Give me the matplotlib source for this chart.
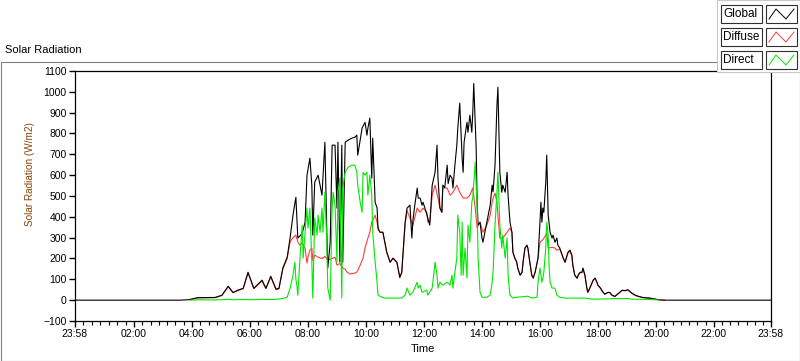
import numpy as np
import matplotlib.pyplot as plt
from matplotlib.patches import Rectangle
from matplotlib.lines import Line2D

# Readings (time of day, W/m2)
global_t = ['00:00', '03:35', '03:52', '04:12', '04:48', '05:02', '05:15', '05:25', '05:35', '05:46',
            '05:56', '06:08', '06:25', '06:33', '06:43', '06:54', '07:00', '07:08', '07:17', '07:23',
            '07:29', '07:35', '07:37', '07:39', '07:48', '07:54', '07:58', '08:04', '08:08', '08:10',
            '08:14', '08:21', '08:29', '08:35', '08:39', '08:41', '08:46', '08:50', '08:56', '09:00',
            '09:02', '09:06', '09:10', '09:12', '09:17', '09:23', '09:31', '09:37', '09:41', '09:43',
            '09:52', '09:58', '10:02', '10:04', '10:08', '10:12', '10:14', '10:19', '10:23', '10:25',
            '10:29', '10:35', '10:43', '10:50', '10:56', '11:04', '11:10', '11:14', '11:21', '11:25',
            '11:31', '11:35', '11:37', '11:41', '11:46', '11:48', '11:52', '11:56', '11:58', '12:02',
            '12:08', '12:12', '12:17', '12:23', '12:27', '12:29', '12:33', '12:37', '12:39', '12:43',
            '12:48', '12:50', '12:54', '12:58', '13:00', '13:04', '13:08', '13:10', '13:14', '13:19',
            '13:21', '13:23', '13:29', '13:31', '13:35', '13:39', '13:41', '13:43', '13:48', '13:50',
            '13:52', '13:56', '14:00', '14:02', '14:06', '14:10', '14:17', '14:21', '14:23', '14:27',
            '14:31', '14:33', '14:37', '14:41', '14:43', '14:48', '14:52', '14:54', '14:58', '15:02',
            '15:04', '15:08', '15:12', '15:14', '15:19', '15:23', '15:25', '15:29', '15:33', '15:35',
            '15:39', '15:43', '15:46', '15:50', '15:56', '16:00', '16:02', '16:04', '16:06', '16:08',
            '16:12', '16:14', '16:17', '16:21', '16:25', '16:27', '16:31', '16:35', '16:37', '16:41',
            '16:46', '16:48', '16:52', '16:56', '16:58', '17:02', '17:06', '17:08', '17:12', '17:17',
            '17:19', '17:23', '17:27', '17:29', '17:33', '17:37', '17:39', '17:43', '17:48', '17:50',
            '17:54', '17:58', '18:00', '18:04', '18:10', '18:14', '18:21', '18:25', '18:29', '18:35',
            '18:41', '18:50', '18:56', '19:02', '19:10', '19:17', '19:23', '19:31', '19:37', '19:48',
            '19:58', '20:08', '20:19', '23:58']
global_v = [0, 0, 2, 12, 13, 24, 67, 37, 48, 57,
            134, 57, 96, 57, 115, 53, 57, 154, 206, 298,
            408, 494, 394, 298, 320, 374, 600, 681, 552, 312,
            566, 600, 504, 758, 326, 154, 278, 744, 744, 442,
            758, 182, 744, 182, 758, 768, 778, 782, 792, 696,
            826, 854, 792, 826, 874, 586, 778, 470, 442, 346,
            326, 326, 230, 182, 202, 182, 110, 134, 374, 442,
            456, 298, 380, 456, 538, 490, 490, 456, 470, 442,
            394, 360, 552, 614, 744, 586, 442, 422, 552, 540,
            648, 560, 600, 586, 538, 648, 744, 826, 946, 682,
            614, 758, 854, 806, 888, 806, 902, 1040, 730, 470,
            360, 374, 298, 278, 326, 374, 456, 552, 520, 648,
            936, 1022, 614, 518, 552, 518, 614, 504, 374, 326,
            230, 202, 182, 154, 120, 134, 182, 250, 264, 250,
            182, 120, 106, 134, 202, 374, 470, 374, 442, 422,
            566, 696, 408, 326, 298, 312, 278, 298, 264, 250,
            216, 202, 182, 216, 230, 240, 216, 168, 120, 106,
            120, 134, 134, 154, 120, 58, 38, 58, 86, 96,
            106, 86, 72, 62, 40, 29, 38, 36, 24, 18,
            30, 48, 46, 50, 34, 24, 19, 14, 12, 10,
            5, 1, 0, 0]

diffuse_t = ['03:56', '04:12', '04:48', '05:02', '05:15', '05:25', '05:35', '05:46', '05:56', '06:08',
             '06:25', '06:33', '06:43', '06:54', '07:00', '07:08', '07:17', '07:23', '07:29', '07:35',
             '07:39', '07:43', '07:48', '07:54', '07:58', '08:00', '08:04', '08:08', '08:10', '08:14',
             '08:21', '08:29', '08:35', '08:41', '08:50', '08:56', '09:00', '09:06', '09:12', '09:17',
             '09:21', '09:27', '09:33', '09:37', '09:41', '09:48', '09:54', '09:58', '10:04', '10:08',
             '10:12', '10:19', '10:23', '10:25', '10:29', '10:35', '10:43', '10:50', '10:56', '11:04',
             '11:10', '11:14', '11:21', '11:25', '11:31', '11:37', '11:46', '11:52', '11:58', '12:06',
             '12:08', '12:12', '12:17', '12:23', '12:29', '12:33', '12:37', '12:39', '12:48', '12:54',
             '13:00', '13:08', '13:14', '13:21', '13:29', '13:35', '13:41', '13:46', '13:50', '13:52',
             '13:56', '14:02', '14:10', '14:17', '14:21', '14:23', '14:27', '14:31', '14:33', '14:37',
             '14:43', '14:52', '14:58', '15:02', '15:04', '15:08', '15:12', '15:14', '15:19', '15:23',
             '15:25', '15:29', '15:33', '15:35', '15:39', '15:43', '15:46', '15:50', '15:56', '16:00',
             '16:06', '16:12', '16:14', '16:17', '16:25', '16:31', '16:35', '16:41', '16:46', '16:48',
             '16:52', '16:56', '16:58', '17:02', '17:06', '17:08', '17:12', '17:17', '17:19', '17:23',
             '17:27', '17:29', '17:33', '17:37', '17:39', '17:43', '17:48', '17:50', '17:54', '17:58',
             '18:00', '18:04', '18:10', '18:14', '18:21', '18:25', '18:29', '18:35', '18:41', '18:50',
             '18:56', '19:02', '19:10', '19:17', '19:23', '19:31', '19:37', '19:48', '19:58', '20:08',
             '20:19']
diffuse_v = [1, 11, 12, 22, 64, 35, 46, 55, 130, 55,
             92, 55, 110, 50, 55, 150, 200, 280, 300, 312,
             280, 264, 274, 250, 178, 206, 240, 250, 190, 216,
             206, 200, 210, 192, 200, 206, 168, 176, 154, 148,
             134, 126, 128, 130, 134, 168, 202, 250, 298, 326,
             374, 408, 374, 340, 326, 326, 230, 182, 200, 180,
             108, 130, 365, 430, 394, 360, 442, 422, 442, 422,
             374, 374, 504, 552, 490, 442, 422, 538, 538, 504,
             518, 552, 518, 490, 490, 504, 538, 442, 346, 360,
             374, 326, 360, 408, 470, 490, 514, 470, 408, 298,
             298, 326, 346, 326, 230, 202, 182, 154, 120, 134,
             182, 250, 262, 248, 182, 120, 106, 134, 202, 278,
             290, 312, 326, 250, 254, 250, 240, 245, 216, 202,
             182, 210, 226, 236, 212, 165, 118, 104, 118, 132,
             132, 150, 118, 56, 37, 56, 84, 94, 104, 84,
             70, 60, 39, 28, 37, 35, 23, 17, 29, 46,
             45, 48, 33, 23, 18, 13, 11, 9, 5, 2,
             0]

direct_t = ['03:56', '04:12', '04:48', '05:15', '05:25', '05:46', '06:08', '06:25', '06:43', '07:00',
            '07:08', '07:17', '07:23', '07:29', '07:33', '07:35', '07:37', '07:39', '07:43', '07:48',
            '07:50', '07:58', '08:00', '08:04', '08:08', '08:10', '08:14', '08:19', '08:21', '08:25',
            '08:29', '08:31', '08:35', '08:39', '08:41', '08:46', '08:50', '08:52', '08:56', '09:00',
            '09:02', '09:06', '09:10', '09:12', '09:17', '09:23', '09:31', '09:37', '09:41', '09:43',
            '09:48', '09:52', '09:54', '09:58', '10:02', '10:04', '10:08', '10:12', '10:14', '10:19',
            '10:23', '10:25', '10:33', '10:39', '11:14', '11:21', '11:25', '11:31', '11:37', '11:46',
            '11:48', '11:52', '11:56', '12:06', '12:08', '12:17', '12:23', '12:27', '12:29', '12:33',
            '12:39', '12:48', '12:54', '12:58', '13:00', '13:04', '13:08', '13:10', '13:14', '13:17',
            '13:19', '13:21', '13:25', '13:29', '13:31', '13:35', '13:39', '13:41', '13:46', '13:50',
            '13:52', '13:56', '14:00', '14:10', '14:17', '14:21', '14:23', '14:27', '14:31', '14:33',
            '14:37', '14:41', '14:43', '14:48', '14:52', '14:54', '14:58', '15:04', '15:12', '15:35',
            '15:43', '15:54', '15:56', '16:00', '16:04', '16:06', '16:08', '16:12', '16:14', '16:17',
            '16:19', '16:21', '16:25', '16:31', '16:35', '16:41', '16:52', '17:06', '17:33', '17:48',
            '18:00', '18:41', '19:02', '19:10', '19:31', '19:58', '20:08']
direct_v = [0, 2, 1, 4, 2, 3, 2, 4, 3, 5,
            8, 14, 57, 120, 182, 100, 72, 24, 182, 360,
            202, 442, 346, 442, 182, 10, 394, 312, 408, 326,
            442, 326, 518, 278, 58, 0, 442, 518, 456, 182,
            518, 586, 10, 538, 614, 638, 648, 648, 614, 552,
            470, 422, 614, 600, 614, 504, 600, 504, 326, 182,
            86, 24, 14, 10, 10, 24, 58, 24, 38, 86,
            58, 72, 38, 48, 24, 58, 182, 120, 58, 86,
            72, 86, 72, 120, 58, 134, 202, 408, 326, 120,
            374, 120, 250, 106, 360, 278, 470, 490, 662, 442,
            202, 38, 14, 14, 24, 86, 134, 360, 518, 614,
            360, 250, 312, 202, 298, 120, 24, 10, 14, 19,
            10, 14, 86, 154, 86, 106, 134, 250, 374, 312,
            154, 86, 58, 58, 24, 14, 10, 10, 10, 5,
            5, 8, 8, 5, 4, 2, 0]

y_ticks = list(range(-100, 1101, 100))
x_tick_labels = ['23:58', '02:00', '04:00', '06:00', '08:00', '10:00', '12:00',
                 '14:00', '16:00', '18:00', '20:00', '22:00', '23:58']


def to_hours(times):
    return np.array([int(s[:2]) + int(s[3:]) / 60 for s in times])


W, H = 800, 361
plt.rcParams['font.family'] = 'Liberation Sans'
plt.rcParams['font.size'] = 7.5

fig = plt.figure(figsize=(W / 100, H / 100), dpi=100)


def fx(x):
    return x / W


def fy(y):
    return 1 - y / H


def box(x0, y0, x1, y1, **kw):
    fig.patches.append(Rectangle((fx(x0), fy(y1)), (x1 - x0) / W, (y1 - y0) / H,
                                 transform=fig.transFigure, **kw))


# outer panel frame
box(0.5, 62, 799.5, 360.5, facecolor='none', edgecolor='#808080', lw=0.8, zorder=0)

ax = fig.add_axes([fx(75), fy(321), (771 - 75) / W, (321 - 71) / H])
ax.plot(to_hours(diffuse_t), diffuse_v, color='#ff3b3b', lw=0.8, zorder=2)
ax.plot(to_hours(global_t), global_v, color='black', lw=0.8, zorder=3)
ax.plot(to_hours(direct_t), direct_v, color='#00e800', lw=0.8, zorder=4)

start = -2 / 60
ax.set_xlim(start, start + 24)
ax.set_ylim(-100, 1100)
ax.set_yticks(y_ticks)
majors = [start] + list(range(2, 23, 2)) + [start + 24]
ax.set_xticks(majors)
ax.set_xticklabels(x_tick_labels)
minors = np.concatenate([np.linspace(a, b, 8)[1:-1] for a, b in zip(majors[:-1], majors[1:])])
ax.set_xticks(minors, minor=True)
ax.tick_params(axis='both', which='major', length=4, width=1, pad=2, direction='out')
ax.tick_params(axis='x', which='minor', length=3, width=0.8, direction='out')
for sp in ax.spines.values():
    sp.set_linewidth(0.9)
ax.set_xlabel('Time', fontsize=8, labelpad=3)

fig.text(fx(30), fy(174), 'Solar Radiation (W/m2)', rotation=90, ha='center', va='center',
         color='#8a4206', fontsize=7.2)
fig.text(fx(5), fy(50), 'Solar Radiation', ha='left', va='center', fontsize=8)

# legend panel in the top right corner
box(717, 0, 800, 72, facecolor='white', edgecolor='#c8c8c8', lw=0.8, zorder=5)
names = ['Global', 'Diffuse', 'Direct']
colors = ['black', '#ff3b3b', '#00e800']
for i, (name, c) in enumerate(zip(names, colors)):
    top = 5 + i * 23
    bot = top + 18
    box(721, top, 762, bot, facecolor='white', edgecolor='#303030', lw=0.8, zorder=6)
    box(766, top, 797, bot, facecolor='white', edgecolor='#303030', lw=0.8, zorder=6)
    fig.text(fx(723), fy((top + bot) / 2), name, ha='left', va='center', fontsize=8.5, zorder=7)
    zx = [769, 776, 786, 794]
    zy = [bot - 4, top + 4, bot - 4, top + 4]
    fig.lines.append(Line2D([fx(v) for v in zx], [fy(v) for v in zy], color=c, lw=0.7,
                            transform=fig.transFigure, zorder=7))

fig.savefig('out.png', dpi=100)
